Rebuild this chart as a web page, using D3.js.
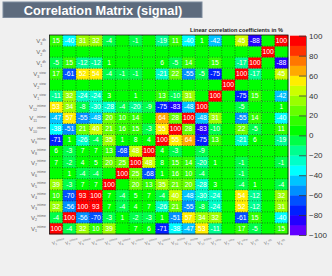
<!DOCTYPE html>
<html>
<head>
<meta charset="utf-8">
<script src="https://cdn.jsdelivr.net/npm/d3@7"></script>
<style>
  body { margin: 0; background: #f0f0f0; }
  svg { display: block; font-family: "Liberation Sans", Arial, sans-serif; }
</style>
</head>
<body>
<div id="chart"></div>
<script>
// width & height of the canvas
const width = 332
const height = 276

// variable labels (bottom to top on y, left to right on x)
const varSub = [1, 2, 3, 4, 5, 6, 7, 8, 9, 10, 11, 12, 1, 2, 3, 1, 2, 3]
const varSup = ["intime", "intime", "intime", "intime", "intime", "intime",
  "intime", "intime", "intime", "intime", "intime", "intime",
  "view", "view", "view", "dh", "dh", "dh"]

// correlation rows, one per variable (var1 first)
const r1  = [100, -4, 32, 10, 39, 0, 7, 6, -71, -38, -47, 53, -11, 0, 17, -5, 0, 15]
const r2  = [-4, 100, -56, -70, -3, 1, -2, -3, 1, -51, 57, 34, 32, 0, -61, 15, 0, -40]
const r3  = [32, -56, 100, 93, 7, -4, 4, 7, -26, 21, -55, -8, -24, 0, 52, -12, 0, 31]
const r4  = [10, -70, 93, 100, 7, -4, 5, 7, -4, 40, -48, -30, -24, 0, 54, -12, 0, 32]
const r5  = [39, -3, 7, 7, 100, 0, 20, 13, 35, 21, 20, -28, 3, 0, -4, 1, 0, -4]
const r6  = [0, 1, -4, -4, 0, 100, 25, -68, 1, 16, 10, -4, 0, 0, -1, 0, 0, 0]
const r7  = [7, -2, 4, 5, 20, 25, 100, 48, 8, 15, 14, -20, 1, 0, -1, 0, 0, -1]
const r8  = [6, -3, 7, 7, 13, -68, 48, 100, 4, -3, 0, -9, 0, 0, 0, 0, 0, 0]
const r9  = [-71, 1, -26, -4, 35, 1, 8, 4, 100, 55, 64, -75, 13, 0, -21, 6, 0, -19]
const r10 = [-38, -51, 21, 40, 21, 16, 15, -3, 55, 100, 28, -83, -10, 0, 22, -5, 0, 11]
const r11 = [-47, 57, -55, -48, 20, 10, 14, 0, 64, 28, 100, -48, 31, 0, -55, 14, 0, -40]
const r12 = [53, 34, -8, -30, -28, -4, -20, -9, -75, -83, -48, 100, 0, 0, -5, 0, 0, 1]
const r13 = [-11, 32, -24, -24, 3, 0, 1, 0, 13, -10, 31, 0, 100, 0, -75, 15, 0, -42]
const r14 = [0, 0, 0, 0, 0, 0, 0, 0, 0, 0, 0, 0, 0, 100, 0, 0, 0, 0]
const r15 = [17, -61, 52, 54, -4, -1, -1, 0, -21, 22, -55, -5, -75, 0, 100, -17, 0, 45]
const r16 = [-5, 15, -12, -12, 1, 0, 0, 0, 6, -5, 14, 0, 15, 0, -17, 100, 0, -88]
const r17 = [0, 0, 0, 0, 0, 0, 0, 0, 0, 0, 0, 0, 0, 0, 0, 0, 100, 0]
const r18 = [15, -40, 31, 32, -4, 0, -1, 0, -19, 11, -40, 1, -42, 0, 45, -88, 0, 100]
const corr = [r1, r2, r3, r4, r5, r6, r7, r8, r9, r10, r11, r12, r13, r14, r15, r16, r17, r18]

// colour bar ticks
const barTicks = [-100, -80, -60, -40, -20, 0, 20, 40, 60, 80, 100]

// palette (20 bins from -100 to 100)
const palette = ["#6000ff", "#2400ff", "#0020ff", "#0050ff", "#0090ff", "#00c4ff",
  "#00ffff", "#00ffc8", "#00ff90", "#00ff48", "#00ff00", "#30ff00", "#66ff00",
  "#99ff00", "#ccff00", "#ffee00", "#ffaa00", "#ff7700", "#ff3300", "#ff0000"]

const color = d3.scaleQuantize().domain([-100, 100]).range(palette)

const n = corr.length
const idx = d3.range(n)

const x = d3.scaleBand().domain(idx).range([49.5, 288])
const y = d3.scaleBand().domain(idx.slice().reverse()).range([35, 234])

const svg = d3.select("#chart").append("svg")
  .attr("width", width)
  .attr("height", height)

svg.append("rect").attr("width", width).attr("height", height).attr("fill", "#f0f0f0")

// title box
svg.append("rect")
  .attr("x", 3).attr("y", 2).attr("width", 199).attr("height", 15.5)
  .attr("fill", "#5D6B7D").attr("stroke", "#7D8B9D").attr("stroke-width", 1)
svg.append("text")
  .attr("x", 103).attr("y", 14.5)
  .attr("text-anchor", "middle")
  .attr("fill", "white").attr("font-weight", "bold").attr("font-size", "12.8px")
  .text("Correlation Matrix (signal)")

svg.append("text")
  .attr("x", 283).attr("y", 32)
  .attr("text-anchor", "end")
  .attr("fill", "#222").attr("font-weight", "bold").attr("font-size", "5.6px")
  .text("Linear correlation coefficients in %")

// cells
const cells = []
corr.forEach(function(row, i) {
  row.forEach(function(v, j) { cells.push({row: i, col: j, v: v}) })
})

svg.append("g").selectAll("rect")
  .data(cells)
  .enter()
  .append("rect")
  .attr("x", d => x(d.col))
  .attr("y", d => y(d.row))
  .attr("width", x.bandwidth() + 0.3)
  .attr("height", y.bandwidth() + 0.3)
  .attr("fill", d => color(Math.min(d.v, 99.9)))

// dotted grid
const grid = svg.append("g").attr("stroke", "#222").attr("stroke-width", 0.6)
  .attr("stroke-dasharray", "1,1.5")
idx.slice(1).forEach(function(k) {
  grid.append("line").attr("x1", x(k)).attr("x2", x(k)).attr("y1", 35).attr("y2", 234)
  grid.append("line").attr("y1", y(k) + y.bandwidth()).attr("y2", y(k) + y.bandwidth())
    .attr("x1", 49.5).attr("x2", 288)
})
svg.append("rect").attr("x", 49.5).attr("y", 35).attr("width", 238.5).attr("height", 199)
  .attr("fill", "none").attr("stroke", "#111").attr("stroke-width", 0.8)

// cell values
svg.append("g").selectAll("text")
  .data(cells.filter(d => d.v !== 0))
  .enter()
  .append("text")
  .attr("x", d => x(d.col) + x.bandwidth() / 2)
  .attr("y", d => y(d.row) + y.bandwidth() / 2 + 2.4)
  .attr("text-anchor", "middle")
  .attr("font-size", "6.8px")
  .attr("fill", "white")
  .text(d => d.v)

// y labels
const ylab = svg.append("g").selectAll("text")
  .data(idx)
  .enter()
  .append("text")
  .attr("x", 46)
  .attr("y", d => y(d) + y.bandwidth() / 2 + 2.5)
  .attr("text-anchor", "end")
  .attr("fill", "#666")
  .attr("font-size", "6px")
ylab.append("tspan").text("V")
ylab.append("tspan").attr("dy", 1.5).attr("font-size", "3.6px").text(d => varSub[d])
ylab.append("tspan").attr("dy", -4).attr("font-size", "3.4px").text(d => varSup[d])

// x labels (slanted)
const xlab = svg.append("g").selectAll("text")
  .data(idx)
  .enter()
  .append("text")
  .attr("transform", d => "translate(" + (x(d) + 3) + ",245) rotate(-15)")
  .attr("fill", "#777")
  .attr("font-size", "4.6px")
xlab.append("tspan").text("V")
xlab.append("tspan").attr("dy", 1.2).attr("font-size", "3px").text(d => varSub[d])
xlab.append("tspan").attr("dy", -3.4).attr("font-size", "3px").text(d => varSup[d])

// colour bar
const bar = d3.scaleLinear().domain([-100, 100]).range([235, 35.7])
svg.append("g").selectAll("rect")
  .data(palette)
  .enter()
  .append("rect")
  .attr("x", 290)
  .attr("width", 16)
  .attr("y", (d, i) => bar(-100 + (i + 1) * 10))
  .attr("height", bar(-100) - bar(-90) + 0.3)
  .attr("fill", d => d)

const barAxis = svg.append("g")
  .attr("transform", "translate(306,0)")
  .call(d3.axisRight(bar).tickValues(barTicks).tickSizeInner(-7).tickSizeOuter(0).tickPadding(3))
barAxis.select(".domain").attr("stroke", "#333").attr("stroke-width", 0.6)
barAxis.selectAll(".tick line").attr("stroke", "#333").attr("stroke-width", 0.8)
barAxis.selectAll("text").attr("font-size", "8px").attr("fill", "#333")
  .attr("font-family", "Liberation Sans, Arial, sans-serif")
</script>
</body>
</html>
